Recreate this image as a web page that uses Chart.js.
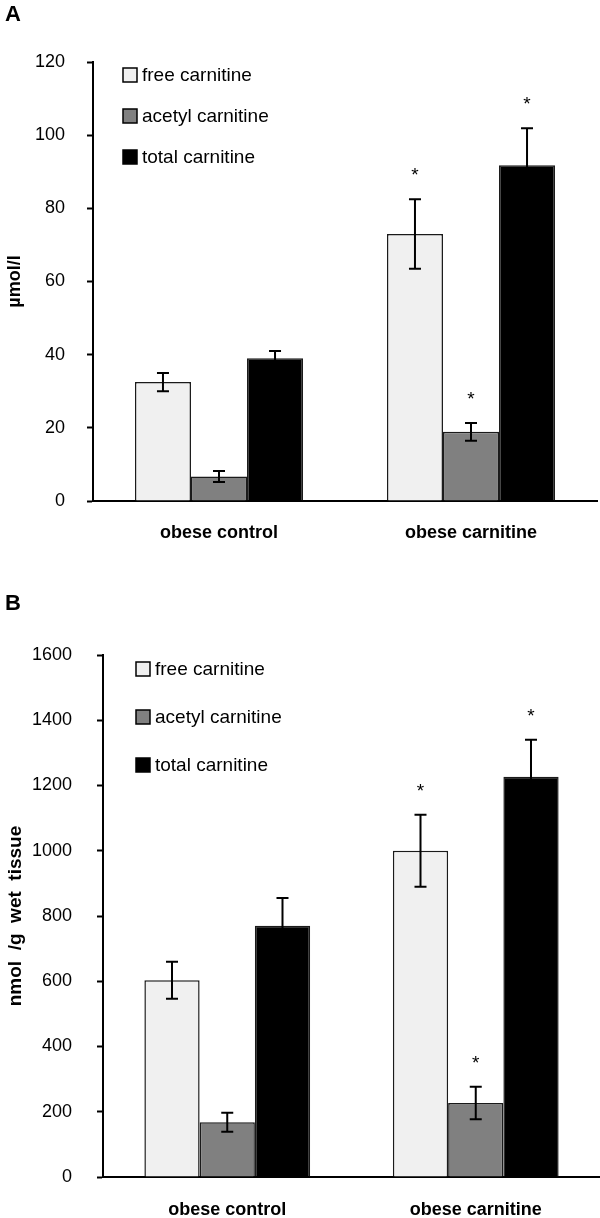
<!DOCTYPE html>
<html lang="en">
<head>
  <meta charset="UTF-8">
  <title>Carnitine - diagram</title>
  <script src="https://cdn.jsdelivr.net/npm/chart.js@4.4.1/dist/chart.umd.min.js"></script>
  <style>
    body { margin: 0; background: #fff; }
    .panel { position: relative; width: 600px; }
    .panel canvas { display: block; }
    .letter { position: absolute; left: 5px; font: bold 22px "Liberation Sans", Arial, sans-serif; color: #000; }
  </style>
</head>

<body>
  <div class="panel" style="height:565px">
    <div class="letter" style="top:1px">A</div>
    <canvas id="chartA" width="600" height="565"></canvas>
  </div>
  <div class="panel" style="height:653px">
    <div class="letter" style="top:25px">B</div>
    <canvas id="chartB" width="600" height="653"></canvas>
  </div>

  <script>
    // Data
    const groups = ['obese control', 'obese carnitine'];
    const seriesNames = ['free carnitine', 'acetyl carnitine', 'total carnitine'];
    const seriesColors = ['#f0f0f0', '#808080', '#000000'];
    const significant = [false, true];   // * over the carnitine group

    // A: plasma, µmol/l
    const freeA = [32.5, 73.0];
    const freeErrA = [2.5, 9.5];
    const acetylA = [6.7, 18.9];
    const acetylErrA = [1.5, 2.4];
    const totalA = [39.0, 91.8];
    const totalErrA = [2.0, 10.1];
    const yTicksA = { max: 120, step: 20 };

    // B: muscle, nmol/g wet tissue
    const freeB = [603, 1000];
    const freeErrB = [57, 110];
    const acetylB = [168, 227];
    const acetylErrB = [29, 50];
    const totalB = [770, 1227];
    const totalErrB = [85, 113];
    const yTicksB = { max: 1600, step: 200 };

    const FONT = '"Liberation Sans", Arial, sans-serif';

    // error bars + asterisks
    const errorBars = {
      id: 'errorBars',
      afterDatasetsDraw(chart) {
        const ctx = chart.ctx;
        const y = chart.scales.y;
        ctx.save();
        ctx.strokeStyle = '#000';
        ctx.fillStyle = '#000';
        ctx.lineWidth = 2;
        ctx.font = '19px ' + FONT;
        ctx.textAlign = 'center';
        ctx.textBaseline = 'middle';
        chart.data.datasets.forEach((ds, i) => {
          chart.getDatasetMeta(i).data.forEach((bar, j) => {
            const hi = y.getPixelForValue(ds.data[j] + ds.errors[j]);
            const lo = y.getPixelForValue(ds.data[j] - ds.errors[j]);
            ctx.beginPath();
            ctx.moveTo(bar.x, lo);
            ctx.lineTo(bar.x, hi);
            ctx.moveTo(bar.x - 6, hi);
            ctx.lineTo(bar.x + 6, hi);
            ctx.moveTo(bar.x - 6, lo);
            ctx.lineTo(bar.x + 6, lo);
            ctx.stroke();
            if (significant[j]) {
              ctx.fillText('*', bar.x, hi - 23);
            }
          });
        });
        ctx.restore();
      }
    };

    // legend with boxes inside the plot
    const boxLegend = {
      id: 'boxLegend',
      afterDraw(chart, args, opts) {
        const ctx = chart.ctx;
        const a = chart.chartArea;
        ctx.save();
        ctx.font = '19px ' + FONT;
        ctx.textBaseline = 'middle';
        chart.data.datasets.forEach((ds, i) => {
          const x = a.left + opts.x;
          const y = a.top + opts.y + i * opts.gap;
          ctx.fillStyle = ds.backgroundColor;
          ctx.fillRect(x, y - 7, 14, 14);
          ctx.strokeStyle = '#000';
          ctx.lineWidth = 1.5;
          ctx.strokeRect(x, y - 7, 14, 14);
          ctx.fillStyle = '#000';
          ctx.fillText(ds.label, x + 19, y + 1);
        });
        ctx.restore();
      }
    };

    function makeChart(id, values, errors, yTicks, cfg) {
      const datasets = seriesNames.map((name, i) => ({
        label: name,
        data: values[i],
        errors: errors[i],
        backgroundColor: seriesColors[i],
        borderColor: '#1a1a1a',
        borderWidth: 1.5,
        categoryPercentage: 0.667,
        barPercentage: 1.0
      }));

      return new Chart(document.getElementById(id), {
        type: 'bar',
        data: { labels: groups, datasets: datasets },
        plugins: [errorBars, boxLegend],
        options: {
          responsive: false,
          animation: false,
          devicePixelRatio: 1,
          layout: { padding: { top: cfg.top, right: cfg.right, left: 0, bottom: 0 } },
          plugins: {
            legend: { display: false },
            tooltip: { enabled: false },
            boxLegend: cfg.legend
          },
          scales: {
            x: {
              z: 1,
              grid: { drawOnChartArea: false, drawTicks: false },
              border: { color: '#000', width: 2 },
              ticks: { color: '#000', padding: cfg.xPad, font: { family: FONT, size: 18, weight: 'bold' } },
              afterFit: s => { s.height = cfg.xHeight; }
            },
            y: {
              min: 0,
              max: yTicks.max,
              ticks: {
                stepSize: yTicks.step,
                color: '#000',
                padding: cfg.yPad,
                font: { family: FONT, size: 18 },
                callback: v => String(v)   // no thousands separator
              },
              grid: { drawOnChartArea: false, tickLength: 6, tickColor: '#000', tickWidth: 2 },
              border: { color: '#000', width: 2 },
              title: {
                display: true,
                text: cfg.title,
                color: '#000',
                padding: { top: 4, bottom: 0 },
                font: { family: FONT, size: cfg.titleSize, weight: 'bold' }
              },
              afterFit: s => { s.width = cfg.yWidth; }
            }
          }
        }
      });
    }

    makeChart('chartA', [freeA, acetylA, totalA], [freeErrA, acetylErrA, totalErrA], yTicksA, {
      top: 62, right: 3, xHeight: 64, xPad: 21, yPad: 22, yWidth: 93,
      title: 'µmol/l', titleSize: 18,
      legend: { x: 30, y: 13, gap: 41 }
    });

    makeChart('chartB', [freeB, acetylB, totalB], [freeErrB, acetylErrB, totalErrB], yTicksB, {
      top: 90, right: 0, xHeight: 41, xPad: 22, yPad: 25, yWidth: 103,
      title: 'nmol  /g  wet  tissue', titleSize: 19,
      legend: { x: 33, y: 14, gap: 48 }
    });
  </script>
</body>
</html>
